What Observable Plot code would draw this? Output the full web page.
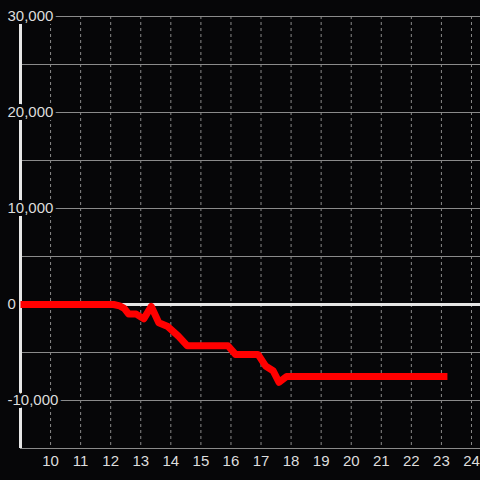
<!DOCTYPE html>
<html>
<head>
<meta charset="utf-8">
<script src="https://cdn.jsdelivr.net/npm/d3@7"></script>
<script src="https://cdn.jsdelivr.net/npm/@observablehq/plot@0.6"></script>
<style>
  html, body { margin: 0; padding: 0; background: #060608; }
</style>
</head>
<body>
<div id="chart"></div>
<script>
const xs = [9, 12.1, 12.3, 12.45, 12.6, 12.85, 13.1, 13.35, 13.6, 13.9, 14.25, 14.55, 14.7, 15.9, 16.15, 16.9, 17.15, 17.4, 17.6, 17.85, 23.2];
const ys = [0, 0, -150, -400, -1000, -1000, -1500, -200, -1900, -2300, -3300, -4300, -4300, -4300, -5200, -5200, -6400, -6900, -8100, -7500, -7500];
const xTicks = [10, 11, 12, 13, 14, 15, 16, 17, 18, 19, 20, 21, 22, 23, 24];
const yTicks = [30000, 20000, 10000, 0, -10000];
const yGrid = [30000, 25000, 20000, 15000, 10000, 5000, -5000, -10000, -15000];

const data = xs.map((x, i) => ({x, y: ys[i]}));
const bg = "#060608";
const fmt = d3.format(",");

const chart = Plot.plot({
  width: 480,
  height: 480,
  marginLeft: 20,
  marginRight: 0,
  marginTop: 16,
  marginBottom: 32,
  style: {background: bg, color: "#dddddd", fontFamily: "Liberation Sans, Arial, sans-serif", fontSize: "15px"},
  x: {domain: [9, 24.3], axis: null},
  y: {domain: [-15000, 30000], axis: null},
  marks: [
    Plot.ruleX(xTicks, {x: d => d, stroke: "#8a8a8a", strokeWidth: 1, strokeDasharray: "3,3"}),
    Plot.ruleY(yGrid, {y: d => d, stroke: "#8a8a8a", strokeWidth: 1}),
    Plot.ruleY([0], {stroke: "#e6e6e6", strokeWidth: 3}),
    Plot.ruleX([9], {stroke: "#e6e6e6", strokeWidth: 3}),
    Plot.line(data, {x: "x", y: "y", stroke: "#ff0000", strokeWidth: 7, strokeLinejoin: "round", strokeLinecap: "butt"}),
    Plot.text(yTicks, {y: d => d, frameAnchor: "left", dx: -13, textAnchor: "start", lineAnchor: "middle", text: d => fmt(d).replace("−", "-"), fill: "#dddddd", stroke: bg, strokeWidth: 6, paintOrder: "stroke"}),
    Plot.text(xTicks, {x: d => d, frameAnchor: "bottom", dy: 13, lineAnchor: "middle", text: d => String(d), fill: "#dddddd"})
  ]
});
document.getElementById("chart").appendChild(chart);
</script>
</body>
</html>
